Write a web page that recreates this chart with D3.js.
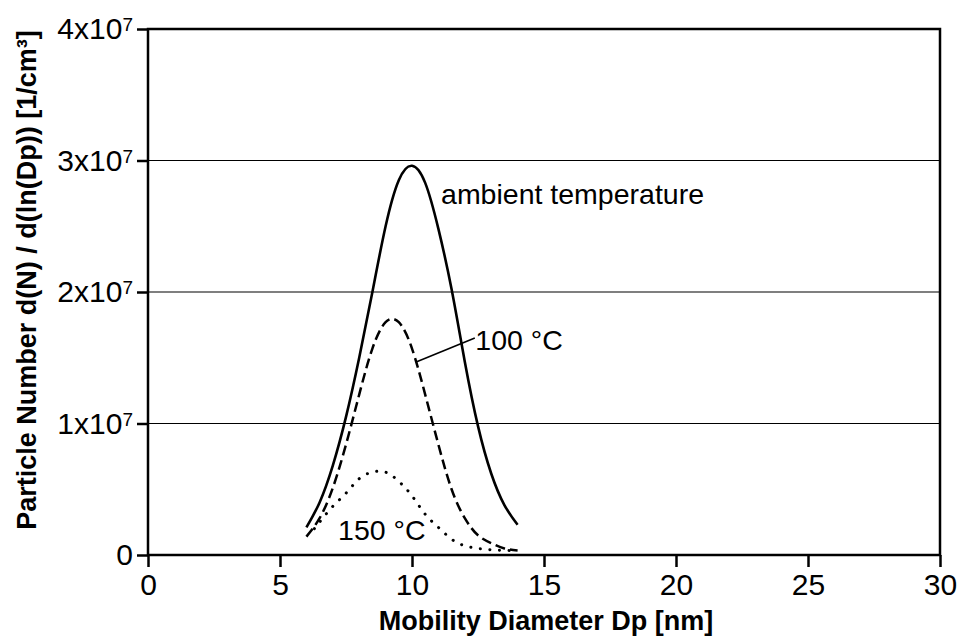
<!DOCTYPE html>
<html>
<head>
<meta charset="utf-8">
<script src="https://cdn.jsdelivr.net/npm/d3@7"></script>
<style>
  body { margin: 0; background: #fff; }
  svg { font-family: "Liberation Sans", Arial, sans-serif; }
  .tick text { font-size: 30px; fill: #000; }
</style>
</head>
<body>
<script>
// data (values in 1x10^7 per cm3)
let diamAmbient = [6, 6.5, 7, 7.5, 8, 8.5, 9, 9.5, 10, 10.5, 11, 11.5, 12, 12.5, 13, 13.5, 14];
let ambient     = [0.21, 0.4, 0.68, 1.05, 1.5, 2.0, 2.5, 2.85, 2.96, 2.83, 2.48, 2.02, 1.47, 0.98, 0.62, 0.38, 0.23];

let diam100 = [6, 6.5, 7, 7.5, 8, 8.5, 9, 9.5, 10, 10.5, 11, 11.5, 12, 12.5, 13, 13.5, 14];
let temp100 = [0.14, 0.28, 0.51, 0.84, 1.22, 1.57, 1.77, 1.77, 1.57, 1.22, 0.84, 0.5, 0.28, 0.15, 0.09, 0.05, 0.035];

let diam150 = [6.3, 6.5, 7, 7.5, 8, 8.5, 9, 9.5, 10, 10.5, 11, 11.5, 12, 12.5, 13, 13.5, 14];
let temp150 = [0.2, 0.25, 0.37, 0.47, 0.58, 0.63, 0.63, 0.56, 0.45, 0.31, 0.21, 0.12, 0.07, 0.05, 0.04, 0.035, 0.035];

let xTicks = [0, 5, 10, 15, 20, 25, 30];
let yTicks = [0, 1, 2, 3, 4];          // x10^7
let gridTicks = [1, 2, 3];

let width = 959;
let height = 640;
let plotLeft = 148, plotRight = 940, plotTop = 29, plotBottom = 555;

let svg = d3.select('body').append('svg')
  .attr('width', width)
  .attr('height', height);

svg.append('rect').attr('width', width).attr('height', height).attr('fill', '#fff');

let xScale = d3.scaleLinear().domain([0, 30]).range([plotLeft, plotRight]);
let yScale = d3.scaleLinear().domain([0, 4]).range([plotBottom, plotTop]);

// grid lines
svg.append('g')
  .selectAll('line')
  .data(gridTicks)
  .enter()
  .append('line')
  .attr('x1', plotLeft)
  .attr('x2', plotRight)
  .attr('y1', d => yScale(d))
  .attr('y2', d => yScale(d))
  .attr('stroke', '#000')
  .attr('stroke-width', 1.2);

// axes
let xAxis = d3.axisBottom(xScale)
  .tickValues(xTicks)
  .tickSize(12)
  .tickPadding(7)
  .tickFormat(d3.format('d'));

let yAxis = d3.axisLeft(yScale)
  .tickValues(yTicks)
  .tickSize(11)
  .tickPadding(4);

let gx = svg.append('g')
  .attr('transform', 'translate(0,' + plotBottom + ')')
  .call(xAxis);
gx.select('.domain').remove();
gx.selectAll('.tick line').attr('stroke-width', 2.5);

let gy = svg.append('g')
  .attr('transform', 'translate(' + plotLeft + ',0)')
  .call(yAxis);
gy.select('.domain').remove();
gy.selectAll('.tick line').attr('stroke-width', 2.5);

// y labels with superscript exponent
gy.selectAll('.tick text')
  .text(null)
  .each(function(d) {
    let t = d3.select(this);
    if (d === 0) {
      t.text('0');
    } else {
      t.append('tspan').text(d + 'x10');
      t.append('tspan').attr('dy', -8).attr('font-size', 19).text('7');
    }
  });

// frame
svg.append('rect')
  .attr('x', plotLeft)
  .attr('y', plotTop)
  .attr('width', plotRight - plotLeft)
  .attr('height', plotBottom - plotTop)
  .attr('fill', 'none')
  .attr('stroke', '#000')
  .attr('stroke-width', 2.5);

// curves
let line = d3.line()
  .x(d => xScale(d[0]))
  .y(d => yScale(d[1]))
  .curve(d3.curveNatural);

let zip = (xs, ys) => xs.map((x, i) => [x, ys[i]]);

svg.append('path')
  .attr('d', line(zip(diamAmbient, ambient)))
  .attr('fill', 'none')
  .attr('stroke', '#000')
  .attr('stroke-width', 2.6);

svg.append('path')
  .attr('d', line(zip(diam100, temp100)))
  .attr('fill', 'none')
  .attr('stroke', '#000')
  .attr('stroke-width', 2.5)
  .attr('stroke-dasharray', '10,5');

svg.append('path')
  .attr('d', line(zip(diam150, temp150)))
  .attr('fill', 'none')
  .attr('stroke', '#000')
  .attr('stroke-width', 3)
  .attr('stroke-linecap', 'round')
  .attr('stroke-dasharray', '0.1,9.5');

// annotations
svg.append('text')
  .attr('x', xScale(11.1))
  .attr('y', yScale(2.67))
  .attr('font-size', 28.5)
  .text('ambient temperature');

svg.append('line')
  .attr('x1', xScale(10.18))
  .attr('y1', yScale(1.47))
  .attr('x2', xScale(12.38))
  .attr('y2', yScale(1.65))
  .attr('stroke', '#000')
  .attr('stroke-width', 1.6);

svg.append('text')
  .attr('x', xScale(12.4))
  .attr('y', yScale(1.56))
  .attr('font-size', 28.5)
  .text('100 °C');

svg.append('text')
  .attr('x', xScale(7.2))
  .attr('y', yScale(0.114))
  .attr('font-size', 28.5)
  .text('150 °C');

// axis captions
svg.append('text')
  .attr('x', 546)
  .attr('y', 630)
  .attr('text-anchor', 'middle')
  .attr('font-size', 27)
  .attr('font-weight', 'bold')
  .text('Mobility Diameter Dp [nm]');

svg.append('text')
  .attr('transform', 'translate(36,280) rotate(-90)')
  .attr('text-anchor', 'middle')
  .attr('font-size', 27)
  .attr('font-weight', 'bold')
  .text('Particle Number d(N) / d(ln(Dp)) [1/cm³]');
</script>
</body>
</html>
